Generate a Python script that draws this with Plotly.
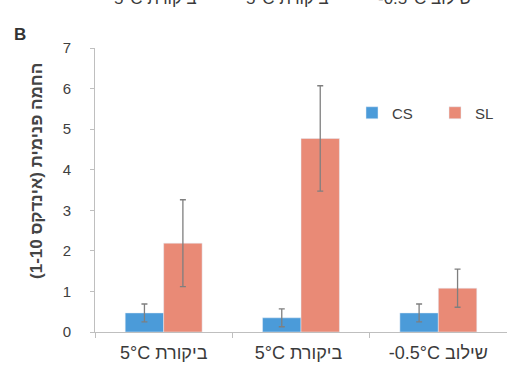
import plotly.graph_objects as go

categories = ["5°C ביקורת", "5°C ביקורת ", "-0.5°C שילוב"]
cs_values = [0.47, 0.35, 0.47]
cs_errors = [0.22, 0.22, 0.22]
sl_values = [2.19, 4.77, 1.08]
sl_errors = [1.07, 1.3, 0.47]
series_names = ["CS", "SL"]
y_ticks = [0, 1, 2, 3, 4, 5, 6, 7]
y_title = "\u200fהחמה פנימית (אינדקס 1-10)\u200f"
top_labels = ["5°C ביקורת", "5°C ביקורת", "-0.5°C שילוב"]
panel_label = "B"

BLUE = "#4b9bd9"
RED = "#e98a76"
FONT = "Liberation Sans, DejaVu Sans, sans-serif"

fig = go.Figure()
fig.add_trace(go.Bar(
    x=categories, y=cs_values, name=series_names[0], marker_color=BLUE,
    error_y=dict(type="data", array=cs_errors, color="#7f7f7f", thickness=1.3, width=3),
))
fig.add_trace(go.Bar(
    x=categories, y=sl_values, name=series_names[1], marker_color=RED,
    error_y=dict(type="data", array=sl_errors, color="#7f7f7f", thickness=1.3, width=3),
))

W, H = 507, 372
L, R, T, B = 95, 0, 48, 40
pw, ph = W - L - R, H - T - B

def px_x(p):
    return (p - L) / pw

def px_y(p):
    return (H - B - p) / ph

annotations = []
for xc, t in zip([155, 287, 425], top_labels):
    annotations.append(dict(
        text=t, xref="paper", yref="paper", x=px_x(xc), y=px_y(10),
        xanchor="center", yanchor="bottom", showarrow=False,
        font=dict(family=FONT, size=17, color="#3a3a3a"),
    ))
annotations.append(dict(
    text="<b>" + panel_label + "</b>", xref="paper", yref="paper",
    x=px_x(20), y=px_y(34), xanchor="center", yanchor="middle", showarrow=False,
    font=dict(family=FONT, size=17, color="#333333"),
))
annotations.append(dict(
    text="<b>" + y_title + "</b>", xref="paper", yref="paper",
    x=px_x(36), y=px_y(171), xanchor="center", yanchor="middle", showarrow=False,
    textangle=-90, font=dict(family=FONT, size=17, color="#444444"),
))

fig.update_layout(
    width=W, height=H,
    margin=dict(l=L, r=R, t=T, b=B, pad=0, autoexpand=False),
    paper_bgcolor="white", plot_bgcolor="white",
    barmode="group", bargap=0.44, bargroupgap=0.0,
    font=dict(family=FONT),
    showlegend=True,
    legend=dict(
        orientation="h", x=px_x(352), y=px_y(113), xanchor="left", yanchor="middle",
        font=dict(family=FONT, size=15, color="#404040"),
        bgcolor="rgba(0,0,0,0)", entrywidth=38, itemwidth=30,
    ),
    annotations=annotations,
    xaxis=dict(
        showline=True, linecolor="#bfbfbf", linewidth=1,
        ticks="outside", tickson="boundaries", ticklen=5, tickcolor="#bfbfbf",
        tickfont=dict(family=FONT, size=18, color="#3a3a3a"),
        tickangle=0, ticklabelstandoff=4,
        showgrid=False, zeroline=False,
    ),
    yaxis=dict(
        range=[0, 7], tickvals=y_ticks,
        showline=True, linecolor="#bfbfbf", linewidth=1,
        ticks="outside", ticklen=4, tickcolor="#bfbfbf",
        tickfont=dict(family=FONT, size=15, color="#404040"),
        showgrid=False, zeroline=False, ticklabelstandoff=16,
    ),
)

fig.write_html("out.html")
